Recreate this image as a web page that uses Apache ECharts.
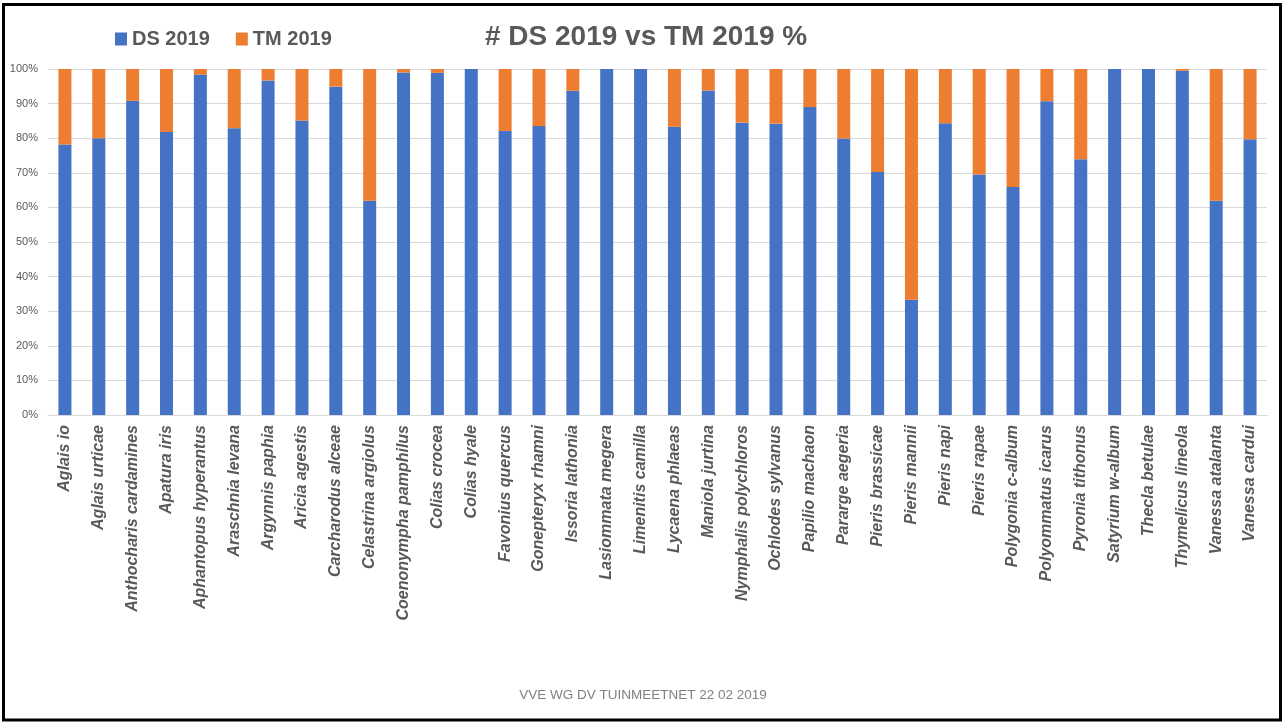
<!DOCTYPE html>
<html>
<head>
<meta charset="utf-8">
<script src="https://cdn.jsdelivr.net/npm/echarts@6/dist/echarts.min.js"></script>
<style>
  html, body { margin: 0; padding: 0; background: #fff; }
  #chart { width: 1286px; height: 722px; }
</style>
</head>
<body>
<div id="chart"></div>
<script>
// soorten (categorieën)
var species = [
  'Aglais io', 'Aglais urticae', 'Anthocharis cardamines', 'Apatura iris',
  'Aphantopus hyperantus', 'Araschnia levana', 'Argynnis paphia', 'Aricia agestis',
  'Carcharodus alceae', 'Celastrina argiolus', 'Coenonympha pamphilus', 'Colias crocea',
  'Colias hyale', 'Favonius quercus', 'Gonepteryx rhamni', 'Issoria lathonia',
  'Lasiommata megera', 'Limenitis camilla', 'Lycaena phlaeas', 'Maniola jurtina',
  'Nymphalis polychloros', 'Ochlodes sylvanus', 'Papilio machaon', 'Pararge aegeria',
  'Pieris brassicae', 'Pieris mannii', 'Pieris napi', 'Pieris rapae',
  'Polygonia c-album', 'Polyommatus icarus', 'Pyronia tithonus', 'Satyrium w-album',
  'Thecla betulae', 'Thymelicus lineola', 'Vanessa atalanta', 'Vanessa cardui'
];
// aandeel DS 2019 (%)
var ds2019 = [
  78.2, 80.0, 90.8, 81.8, 98.4, 82.9, 96.7, 85.1, 94.9, 61.9, 99.0, 98.9,
  100, 82.1, 83.5, 93.7, 100, 100, 83.3, 93.8, 84.5, 84.2, 89.0, 79.9,
  70.2, 33.3, 84.3, 69.5, 65.9, 90.7, 73.9, 100, 100, 99.5, 61.9, 79.7
];
// aandeel TM 2019 (%)
var tm2019 = [
  21.8, 20.0, 9.2, 18.2, 1.6, 17.1, 3.3, 14.9, 5.1, 38.1, 1.0, 1.1,
  0, 17.9, 16.5, 6.3, 0, 0, 16.7, 6.2, 15.5, 15.8, 11.0, 20.1,
  29.8, 66.7, 15.7, 30.5, 34.1, 9.3, 26.1, 0, 0, 0.5, 38.1, 20.3
];
var seriesNames = ['DS 2019', 'TM 2019'];

var chart = echarts.init(document.getElementById('chart'));
chart.setOption({
  backgroundColor: '#fff',
  animation: false,
  title: [{
    text: '# DS 2019 vs TM 2019 %',
    left: 480,
    top: 18,
    textStyle: {
      fontFamily: '"Liberation Sans", sans-serif',
      fontSize: 28,
      fontWeight: 'bold',
      color: '#595959'
    }
  }, {
    text: 'VVE WG DV TUINMEETNET 22 02 2019',
    left: 'center',
    top: 683,
    textStyle: {
      fontFamily: '"Liberation Sans", sans-serif',
      fontSize: 13.5,
      fontWeight: 'normal',
      color: '#808080'
    }
  }],
  legend: {
    data: seriesNames,
    left: 110,
    top: 24,
    icon: 'rect',
    itemWidth: 12,
    itemHeight: 13,
    itemGap: 26,
    textStyle: {
      fontFamily: '"Liberation Sans", sans-serif',
      fontSize: 20,
      fontWeight: 'bold',
      color: '#595959'
    }
  },
  grid: { left: 48, right: 19, top: 69, bottom: 307 },
  xAxis: {
    type: 'category',
    data: species,
    axisLine: { lineStyle: { color: '#d9d9d9' } },
    axisTick: { show: false },
    axisLabel: {
      rotate: 90,
      interval: 0,
      margin: 10,
      fontFamily: '"Liberation Sans", sans-serif',
      fontSize: 16,
      fontStyle: 'italic',
      fontWeight: 'bold',
      color: '#595959'
    }
  },
  yAxis: {
    type: 'value',
    min: 0,
    max: 100,
    interval: 10,
    axisLine: { show: false },
    axisTick: { show: false },
    axisLabel: {
      formatter: '{value}%',
      margin: 10,
      fontFamily: '"Liberation Sans", sans-serif',
      fontSize: 11,
      color: '#595959'
    },
    splitLine: { lineStyle: { color: '#d9d9d9', width: 1 } }
  },
  series: [{
    name: seriesNames[0],
    type: 'bar',
    stack: 'totaal',
    data: ds2019,
    barWidth: 13,
    itemStyle: { color: '#4472c4' }
  }, {
    name: seriesNames[1],
    type: 'bar',
    stack: 'totaal',
    data: tm2019,
    barWidth: 13,
    itemStyle: { color: '#ed7d31' }
  }],
  graphic: [{
    type: 'rect',
    shape: { x: 3.5, y: 4.5, width: 1277, height: 715.5 },
    style: { fill: null, stroke: '#000', lineWidth: 3 },
    silent: true
  }]
});
</script>
</body>
</html>
